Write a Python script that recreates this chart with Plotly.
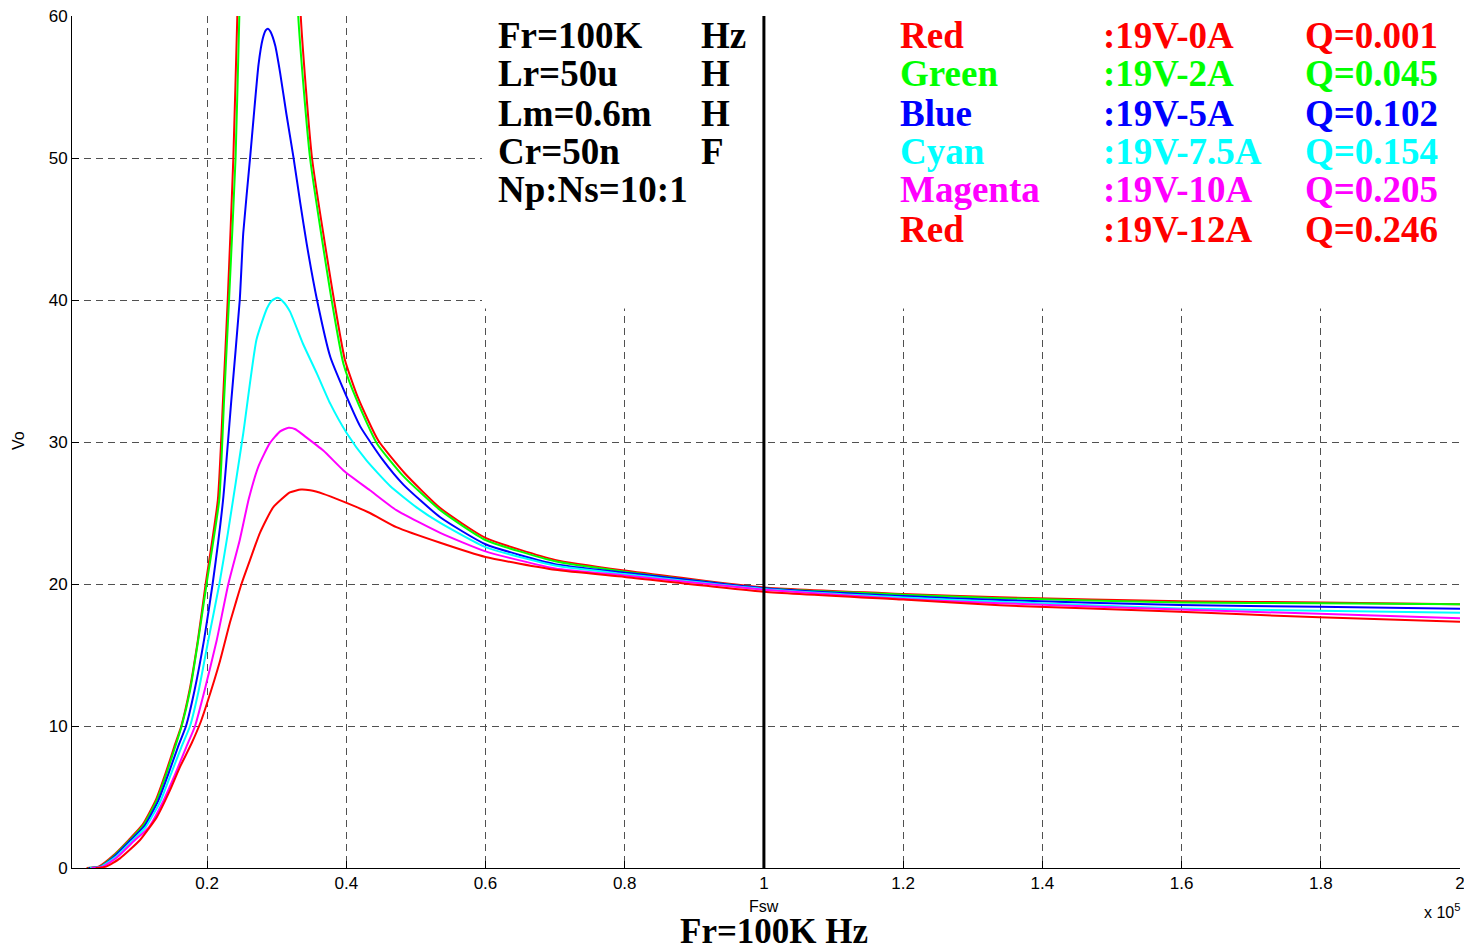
import plotly.graph_objects as go

# ---------------- data (Fsw in units of 1e5 Hz, Vo in volts) ----------------
fsw_red0 = [0.027, 0.045, 0.064, 0.088, 0.1075, 0.127, 0.141, 0.153, 0.163, 0.175, 0.187, 0.198,
            0.2155, 0.223, 0.2297, 0.2378, 0.2435, 0.255, 0.290, 0.322, 0.3346, 0.3508, 0.3824,
            0.398, 0.417, 0.446, 0.484, 0.535, 0.600, 0.700, 0.800, 1.000, 1.200, 1.339, 1.600,
            1.800, 2.000]
vo_red0 = [0.0, 0.12, 0.82, 2.0, 3.05, 4.85, 6.75, 8.55, 10.0, 12.55, 16.1, 20.0,
           25.9, 33.0, 40.0, 50.0, 60.0, 80.0, 150.0, 80.0, 60.0, 50.0, 40.0,
           35.8, 33.1, 30.1, 27.8, 25.35, 23.25, 21.7, 20.95, 19.75, 19.3, 19.06, 18.78,
           18.7, 18.57]

fsw_green = [0.029, 0.046, 0.065, 0.089, 0.1085, 0.128, 0.142, 0.154, 0.1636, 0.1756, 0.1875,
             0.1995, 0.2175, 0.2245, 0.2316, 0.241, 0.2464, 0.258, 0.292, 0.319, 0.331, 0.348,
             0.379, 0.396, 0.415, 0.444, 0.482, 0.535, 0.600, 0.700, 0.800, 1.000, 1.200, 1.339,
             1.597, 1.798, 2.000]
vo_green = [0.0, 0.1, 0.8, 1.97, 3.0, 4.8, 6.7, 8.5, 10.0, 12.5, 16.1,
            20.05, 25.9, 33.0, 40.0, 50.0, 60.0, 80.0, 110.0, 80.0, 60.0, 50.0,
            40.0, 35.5, 32.96, 29.9, 27.6, 25.2, 23.1, 21.6, 20.87, 19.7, 19.25, 19.0,
            18.7, 18.64, 18.57]

fsw_blue = [0.030, 0.047, 0.066, 0.090, 0.110, 0.130, 0.145, 0.158, 0.1698, 0.182, 0.1957, 0.208,
            0.223, 0.235, 0.247, 0.252, 0.262, 0.267, 0.274, 0.280, 0.2845, 0.2875, 0.291, 0.298,
            0.305, 0.314, 0.324, 0.334, 0.343, 0.358, 0.377, 0.396, 0.420, 0.453, 0.482, 0.535,
            0.600, 0.700, 0.800, 1.000, 1.200, 1.339, 1.597, 1.798, 2.000]
vo_blue = [0.0, 0.1, 0.78, 1.95, 2.95, 4.75, 6.7, 8.5, 10.0, 12.5, 16.06, 20.0,
           25.9, 33.0, 40.0, 44.7, 50.1, 52.9, 56.6, 58.4, 59.0, 59.1, 58.9, 57.9,
           56.0, 53.1, 50.1, 46.8, 44.0, 40.0, 36.0, 33.7, 31.1, 28.7, 27.0, 24.7,
           22.8, 21.4, 20.8, 19.7, 19.15, 18.87, 18.52, 18.4, 18.26]

fsw_cyan = [0.032, 0.048, 0.068, 0.092, 0.112, 0.133, 0.148, 0.163, 0.1756, 0.188, 0.2019,
            0.2177, 0.230, 0.252, 0.271, 0.286, 0.293, 0.301, 0.309, 0.319, 0.338, 0.358,
            0.377, 0.401, 0.429, 0.463, 0.501, 0.535, 0.600, 0.700, 0.800, 1.000, 1.200,
            1.339, 1.597, 1.798, 2.000]
vo_cyan = [0.0, 0.1, 0.75, 1.9, 2.9, 4.7, 6.6, 8.5, 10.0, 12.5, 16.06,
           20.0, 23.6, 30.6, 37.2, 39.4, 39.95, 40.15, 39.9, 39.2, 36.9, 34.8,
           32.7, 30.6, 28.7, 26.9, 25.4, 24.3, 22.6, 21.3, 20.7, 19.65, 19.05,
           18.75, 18.28, 18.12, 17.98]

fsw_magenta = [0.034, 0.050, 0.070, 0.095, 0.116, 0.136, 0.155, 0.170, 0.1828, 0.197, 0.214,
               0.2306, 0.247, 0.260, 0.274, 0.290, 0.305, 0.317, 0.327, 0.338, 0.367, 0.396,
               0.434, 0.472, 0.535, 0.600, 0.700, 0.800, 1.000, 1.200, 1.339, 1.597, 1.798,
               2.000]
vo_magenta = [0.0, 0.1, 0.72, 1.9, 2.85, 4.6, 6.7, 8.5, 10.0, 12.6, 16.06,
              20.0, 23.1, 26.0, 28.3, 29.9, 30.75, 31.0, 30.9, 30.5, 29.4, 28.0,
              26.6, 25.2, 23.6, 22.3, 21.1, 20.6, 19.6, 18.95, 18.65, 18.2, 17.9,
              17.58]

fsw_red12 = [0.040, 0.055, 0.075, 0.1037, 0.128, 0.147, 0.161, 0.178, 0.191, 0.200, 0.2187,
             0.233, 0.2426, 0.2498, 0.2618, 0.276, 0.295, 0.319, 0.335, 0.348, 0.367, 0.396,
             0.434, 0.472, 0.535, 0.600, 0.700, 0.800, 1.000, 1.200, 1.339, 1.597, 1.798, 2.000]
vo_red12 = [0.0, 0.1, 0.68, 1.97, 3.6, 5.5, 7.1, 8.8, 10.3, 11.6, 14.6,
            17.3, 18.9, 20.05, 21.7, 23.6, 25.4, 26.45, 26.65, 26.6, 26.35, 25.8,
            25.0, 24.0, 22.9, 21.9, 21.0, 20.5, 19.46, 18.9, 18.5, 18.05, 17.65, 17.35]

series = [
    ("Red 19V-0A", fsw_red0, vo_red0, "#FF0000"),
    ("Green 19V-2A", fsw_green, vo_green, "#00FF00"),
    ("Blue 19V-5A", fsw_blue, vo_blue, "#0000FF"),
    ("Cyan 19V-7.5A", fsw_cyan, vo_cyan, "#00FFFF"),
    ("Magenta 19V-10A", fsw_magenta, vo_magenta, "#FF00FF"),
    ("Red 19V-12A", fsw_red12, vo_red12, "#FF0000"),
]

fr_marker_x = [1.0, 1.0]
fr_marker_y = [0.0, 60.15]

x_ticks = [0.2, 0.4, 0.6, 0.8, 1.0, 1.2, 1.4, 1.6, 1.8, 2.0]
x_ticklabels = ["0.2", "0.4", "0.6", "0.8", "1", "1.2", "1.4", "1.6", "1.8", "2"]
y_ticks = [0, 10, 20, 30, 40, 50, 60]

param_names = ["Fr=100K", "Lr=50u", "Lm=0.6m", "Cr=50n", "Np:Ns=10:1"]
param_units = ["Hz", "H", "H", "F", ""]
legend_names = ["Red", "Green", "Blue", "Cyan", "Magenta", "Red"]
legend_loads = [":19V-0A", ":19V-2A", ":19V-5A", ":19V-7.5A", ":19V-10A", ":19V-12A"]
legend_q = ["Q=0.001", "Q=0.045", "Q=0.102", "Q=0.154", "Q=0.205", "Q=0.246"]
legend_colors = ["#FF0000", "#00FF00", "#0000FF", "#00FFFF", "#FF00FF", "#FF0000"]

# ---------------- figure ----------------
W, H = 1464, 952
ML, MR, MT, MB = 72, 4, 16, 84
PW, PH = W - ML - MR, H - MT - MB


def px(xp):
    return (xp - ML) / PW


def py(yp):
    return (H - MB - yp) / PH


fig = go.Figure()
for name, xs, ys, col in series:
    fig.add_trace(go.Scatter(x=xs, y=ys, mode="lines", name=name,
                             line=dict(color=col, width=2, shape="spline", smoothing=0.5),
                             showlegend=False))

fig.add_trace(go.Scatter(x=fr_marker_x, y=fr_marker_y, mode="lines",
                         line=dict(color="black", width=3), showlegend=False,
                         cliponaxis=False))

# white box behind the text block (hides gridlines as in the original)
fig.add_shape(type="rect", xref="x", yref="y", x0=0.595, x1=2.1, y0=39.4, y1=65,
              fillcolor="white", line=dict(width=0), layer="between")

serif = "Liberation Serif, Times New Roman, serif"
sans = "Liberation Sans, Arial, sans-serif"
row_y = [35, 74, 113, 152, 190, 229]
TS = 37

ann = []
for i, t in enumerate(param_names):
    ann.append(dict(text="<b>%s</b>" % t, x=px(496), y=py(row_y[i]), xref="paper", yref="paper",
                    xanchor="left", yanchor="middle", showarrow=False,
                    font=dict(family=serif, size=TS, color="black")))
    if param_units[i]:
        ann.append(dict(text="<b>%s</b>" % param_units[i], x=px(699), y=py(row_y[i]),
                        xref="paper", yref="paper", xanchor="left", yanchor="middle",
                        showarrow=False, font=dict(family=serif, size=TS, color="black")))
for i in range(6):
    for xpos, t in [(898, legend_names[i]), (1101, legend_loads[i]), (1303, legend_q[i])]:
        ann.append(dict(text="<b>%s</b>" % t, x=px(xpos), y=py(row_y[i]), xref="paper",
                        yref="paper", xanchor="left", yanchor="middle", showarrow=False,
                        font=dict(family=serif, size=TS, color=legend_colors[i])))

ann.append(dict(text="<b>Fr=100K Hz</b>", x=px(774), y=py(952), xref="paper", yref="paper",
                xanchor="center", yanchor="bottom", showarrow=False, borderpad=0,
                font=dict(family=serif, size=35, color="black")))
ann.append(dict(text="Fsw", x=px(764), y=py(906), xref="paper", yref="paper",
                xanchor="center", yanchor="middle", showarrow=False,
                font=dict(family=sans, size=16, color="black")))
ann.append(dict(text="x 10<sup>5</sup>", x=px(1462), y=py(911), xref="paper", yref="paper",
                xanchor="right", yanchor="middle", showarrow=False,
                font=dict(family=sans, size=16, color="black")))
ann.append(dict(text="Vo", x=px(18), y=py(441), xref="paper", yref="paper",
                xanchor="center", yanchor="middle", showarrow=False, textangle=-90,
                font=dict(family=sans, size=16, color="black")))

grid_style = dict(showgrid=True, gridcolor="#505050", gridwidth=1, griddash="7px,5px",
                  zeroline=False, showline=True, linecolor="black", linewidth=1,
                  ticks="inside", ticklen=7, tickcolor="black", tickwidth=1,
                  tickfont=dict(family=sans, size=17, color="black"), automargin=False)

fig.update_xaxes(range=[0.006, 2.0], tickmode="array", tickvals=x_ticks,
                 ticktext=x_ticklabels, ticklabeloverflow="allow", **grid_style)
fig.update_yaxes(range=[0, 60], tickmode="array", tickvals=y_ticks, **grid_style)

fig.update_layout(width=W, height=H, margin=dict(l=ML, r=MR, t=MT, b=MB, pad=0),
                  paper_bgcolor="white", plot_bgcolor="white", annotations=ann,
                  showlegend=False)

fig.write_html("out.html", config={"displayModeBar": False},
               post_script="document.body.style.margin='0';document.body.style.overflow='hidden';")
